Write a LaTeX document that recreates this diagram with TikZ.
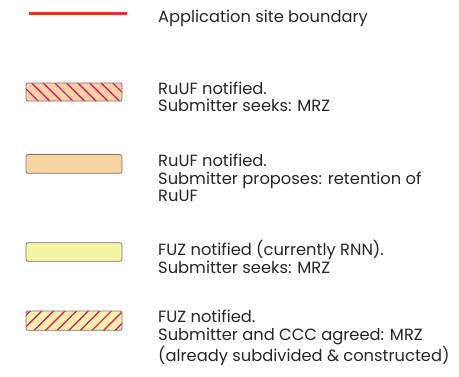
\documentclass[tikz,border=0pt]{standalone}
\usepackage{fontspec}
\setmainfont{Poppins}
\usetikzlibrary{patterns.meta}
\definecolor{siteRed}{HTML}{E8312A}
\definecolor{peachFill}{HTML}{F9D3A0}
\definecolor{fuzYellow}{HTML}{F8F4A5}
\definecolor{hatchPink}{HTML}{E6007E}
\definecolor{edgeGray}{HTML}{767676}
\tikzset{
        patch/.style={draw=edgeGray, line width=0.8pt, rounded corners=2pt},
        hatchNW/.style={pattern={Lines[angle=-45,distance=8.2pt,line width=1.2pt]}, pattern color=hatchPink},
        hatchNE/.style={pattern={Lines[angle=45,distance=8.2pt,line width=1.2pt]}, pattern color=hatchPink},
        legtext/.style={anchor=base west, align=left, inner sep=0pt, text=black!85, font=\fontsize{16.3}{17.5}\selectfont}
}
\begin{document}
\begin{tikzpicture}[x=1pt,y=-1pt]
        \useasboundingbox (0,0) rectangle (459,376);
        % site boundary
        \draw [siteRed, line width=3.5pt] (29,13.5) -- (127,13.5);
        \node[legtext] (site) at (158,22.7) {Application site boundary};
        % RuUF, MRZ sought (node placed by its last line)
        \draw [patch, preaction={fill=peachFill}, hatchNW] (26,83) rectangle (122,101);
        \node[legtext] (ruufMrz) at (158,111.7) {RuUF notified.\\Submitter seeks: MRZ};
        % RuUF retained
        \draw [patch, fill=peachFill] (26,154.5) rectangle (122,173.3);
        \node[legtext] (ruufKeep) at (158,201.7) {RuUF notified.\\Submitter proposes: retention of\\RuUF};
        % FUZ, MRZ sought
        \draw [patch, fill=fuzYellow] (26,242.7) rectangle (122,261.3);
        \node[legtext] (fuzMrz) at (158,273.3) {FUZ notified (currently RNN).\\Submitter seeks: MRZ};
        % FUZ, MRZ agreed
        \draw [patch, preaction={fill=fuzYellow}, hatchNE] (26,311) rectangle (122,330.3);
        \node[legtext] (fuzAgreed) at (158,361) {FUZ notified.\\Submitter and CCC agreed: MRZ\\(already subdivided \& constructed)};
\end{tikzpicture}
\end{document}
